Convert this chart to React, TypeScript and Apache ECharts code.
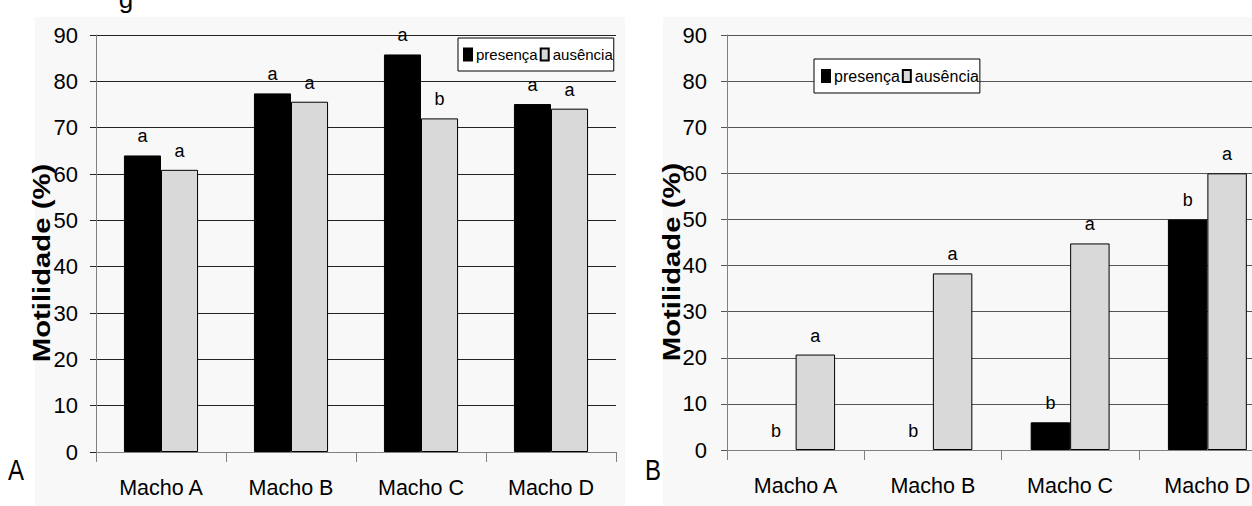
import React, { useEffect, useRef } from "react";
import * as echarts from "echarts";

const categories = ["Macho A", "Macho B", "Macho C", "Macho D"];
const yTicksMax = 90;
const yInterval = 10;

// Panel A
const presencaA = [64.0, 77.4, 85.8, 75.1];
const ausenciaA = [60.9, 75.6, 72.0, 74.1];
const lettersPresencaA = ["a", "a", "a", "a"];
const lettersAusenciaA = ["a", "a", "b", "a"];

// Panel B
const presencaB = [0, 0, 6.0, 50.0];
const ausenciaB = [20.7, 38.3, 44.8, 60.0];
const lettersPresencaB = ["b", "b", "b", "b"];
const lettersAusenciaB = ["a", "a", "a", "a"];

const seriesNames = ["presença", "ausência"];
const yAxisTitle = "Motilidade (%)";
const panelLetters = ["A", "B"];

const SANS = "'Liberation Sans', Arial, sans-serif";

export default function App() {
  const ref = useRef<HTMLDivElement>(null);
  useEffect(() => {
    if (!ref.current) return;
    const chart = echarts.init(ref.current, null, { renderer: "svg" });

    const grids = [
      { left: 96, top: 35, width: 520, height: 417 },
      { left: 727, top: 35, width: 549, height: 415 },
    ];
    const gridColors = ["#222", "#555"];
    const labelMargins = [18, 20];

    const xAxes = grids.map((_, i) => ({
      type: "category",
      gridIndex: i,
      data: categories,
      axisLine: { show: true, lineStyle: { color: "#808080", width: 1 } },
      axisTick: { show: true, length: 10, lineStyle: { color: "#808080" } },
      axisLabel: { interval: 0, fontFamily: SANS, fontSize: 21.5, color: "#000", margin: 25 },
    }));
    const yAxes = grids.map((_, i) => ({
      type: "value",
      gridIndex: i,
      min: 0,
      max: yTicksMax,
      interval: yInterval,
      axisLine: { show: true, lineStyle: { color: "#808080" } },
      axisTick: { show: true, length: 6, lineStyle: { color: gridColors[i] } },
      splitLine: { show: true, lineStyle: { color: gridColors[i], width: 1 } },
      axisLabel: { fontFamily: SANS, fontSize: 22, color: "#000", margin: labelMargins[i] },
    }));

    const mkSeries = (
      name: string,
      data: number[],
      letters: string[],
      idx: number,
      dark: boolean
    ) => ({
      type: "bar",
      name,
      xAxisIndex: idx,
      yAxisIndex: idx,
      data: data.map((v) => (v === 0 ? { value: v, itemStyle: { borderWidth: 0 } } : v)),
      barGap: "0%",
      barCategoryGap: idx === 0 ? "43%" : "42.5%",
      itemStyle: {
        color: dark ? "#000" : "#d9d9d9",
        borderColor: "#000",
        borderWidth: 1,
      },
      label: {
        show: true,
        position: "top",
        distance: 10,
        fontFamily: SANS,
        fontSize: 18,
        color: "#000",
        formatter: (p: any) => letters[p.dataIndex],
      },
    });

    const legendBase = {
      orient: "horizontal",
      icon: "rect",
      itemWidth: 8,
      itemHeight: 12,
      itemGap: 2,
      backgroundColor: "#fff",
      borderColor: "#000",
      borderWidth: 1,
      borderRadius: 0,
      data: seriesNames,
    };

    chart.setOption({
      animation: false,
      backgroundColor: "#fff",
      grid: grids,
      xAxis: xAxes,
      yAxis: yAxes,
      legend: [
        {
          ...legendBase,
          left: 458,
          top: 38,
          padding: [9, 1, 9, 5],
          textStyle: { fontFamily: SANS, fontSize: 15, color: "#000", padding: [0, 0, 0, -1] },
        },
        {
          ...legendBase,
          left: 814,
          top: 59,
          padding: [9, 1, 9, 7],
          textStyle: { fontFamily: SANS, fontSize: 16, color: "#000", padding: [0, 0, 0, -1] },
        },
      ],
      series: [
        mkSeries(seriesNames[0], presencaA, lettersPresencaA, 0, true),
        mkSeries(seriesNames[1], ausenciaA, lettersAusenciaA, 0, false),
        mkSeries(seriesNames[0], presencaB, lettersPresencaB, 1, true),
        mkSeries(seriesNames[1], ausenciaB, lettersAusenciaB, 1, false),
      ],
      graphic: [
        { type: "rect", z: -10, silent: true, shape: { x: 35, y: 17, width: 590, height: 489 }, style: { fill: "#f8f8f8" } },
        { type: "rect", z: -10, silent: true, shape: { x: 663, y: 17, width: 620, height: 489 }, style: { fill: "#f8f8f8" } },
        {
          type: "text",
          x: 126,
          y: -14,
          style: { text: "g", fontFamily: SANS, fontSize: 26, fill: "#000", textAlign: "center", textVerticalAlign: "top" },
        },
        {
          type: "text",
          x: 42,
          y: 263,
          rotation: Math.PI / 2,
          scaleX: 1.22,
          style: { text: yAxisTitle, fontFamily: SANS, fontWeight: "bold", fontSize: 24, fill: "#000", textAlign: "center", textVerticalAlign: "middle" },
        },
        {
          type: "text",
          x: 672,
          y: 262,
          rotation: Math.PI / 2,
          scaleX: 1.22,
          style: { text: yAxisTitle, fontFamily: SANS, fontWeight: "bold", fontSize: 24, fill: "#000", textAlign: "center", textVerticalAlign: "middle" },
        },
        {
          type: "text",
          x: 16,
          y: 470,
          scaleY: 1.2,
          style: { text: panelLetters[0], fontFamily: SANS, fontSize: 24, fill: "#000", textAlign: "center", textVerticalAlign: "middle" },
        },
        {
          type: "text",
          x: 653,
          y: 470,
          scaleY: 1.2,
          style: { text: panelLetters[1], fontFamily: SANS, fontSize: 24, fill: "#000", textAlign: "center", textVerticalAlign: "middle" },
        },
      ],
    });
    return () => chart.dispose();
  }, []);

  return (
    <div style={{ position: "fixed", left: 0, top: 0, width: 1252, height: 506, overflow: "hidden", background: "#fff" }}>
      <div ref={ref} style={{ width: 1290, height: 506 }} />
    </div>
  );
}
